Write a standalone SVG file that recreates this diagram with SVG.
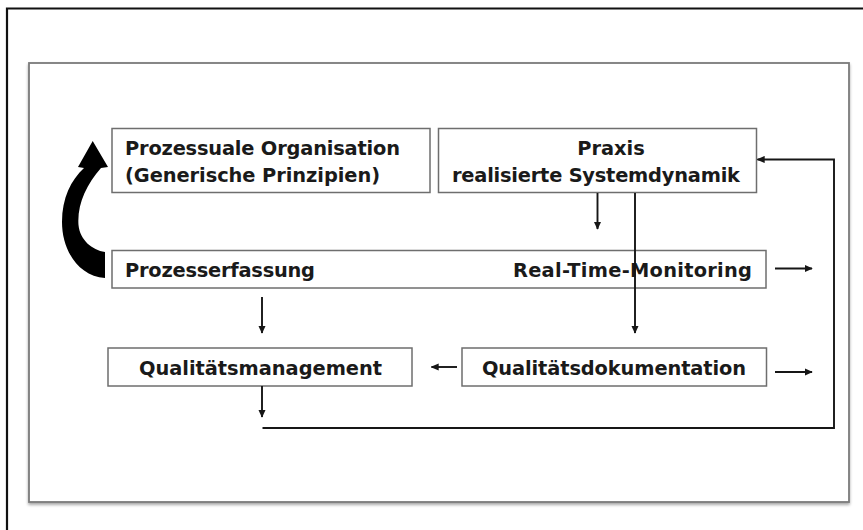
<svg xmlns="http://www.w3.org/2000/svg" width="863" height="530" viewBox="0 0 863 530">
  <style>
    .box { fill: #ffffff; stroke: #6e6e6e; stroke-width: 1.5; }
    .lbl { font-family: "DejaVu Sans", Verdana, sans-serif; font-weight: bold; font-size: 19.4px; fill: #1a1a1a; }
    .con { fill: none; stroke: #161616; stroke-width: 1.9; }
  </style>
  <defs>
    <marker id="ah" viewBox="0 0 10 10" refX="9" refY="5" markerWidth="8" markerHeight="8" markerUnits="userSpaceOnUse" orient="auto">
      <path d="M0,0.5 L10,5 L0,9.5 Z" fill="#161616"/>
    </marker>
    <filter id="shadow" x="-5%" y="-5%" width="110%" height="110%">
      <feGaussianBlur in="SourceAlpha" stdDeviation="1.5"/>
      <feOffset dx="0" dy="1.5" result="b"/>
      <feComponentTransfer><feFuncA type="linear" slope="0.35"/></feComponentTransfer>
      <feMerge><feMergeNode/><feMergeNode in="SourceGraphic"/></feMerge>
    </filter>
  </defs>

  <rect width="863" height="530" fill="#ffffff"/>

  <!-- outer frame, running off the right and bottom edges -->
  <path d="M7,531 L7,8.5 L864,8.5" fill="none" stroke="#111111" stroke-width="2.2"/>

  <!-- inner panel -->
  <rect x="29" y="63" width="820" height="439" fill="#ffffff" stroke="#7a7a7a" stroke-width="1.8" filter="url(#shadow)"/>

  <g id="node-organisation">
    <rect class="box" x="112" y="128.5" width="318" height="64"/>
    <text class="lbl" x="125" y="155" textLength="275" lengthAdjust="spacing">Prozessuale Organisation</text>
    <text class="lbl" x="125" y="181.5" textLength="255" lengthAdjust="spacing">(Generische Prinzipien)</text>
  </g>

  <g id="node-praxis">
    <rect class="box" x="438.5" y="128.5" width="318" height="64"/>
    <text class="lbl" x="611" y="155" text-anchor="middle">Praxis</text>
    <text class="lbl" x="452" y="181.5" textLength="288" lengthAdjust="spacing">realisierte Systemdynamik</text>
  </g>

  <g id="node-erfassung">
    <rect class="box" x="112" y="250.5" width="654" height="37.5"/>
    <text class="lbl" x="125" y="276.5" textLength="190" lengthAdjust="spacing">Prozesserfassung</text>
    <text class="lbl" x="513" y="276.5" textLength="239" lengthAdjust="spacing">Real-Time-Monitoring</text>
  </g>

  <g id="node-management">
    <rect class="box" x="108" y="348" width="304" height="38"/>
    <text class="lbl" x="139" y="374.5" textLength="243" lengthAdjust="spacing">Qualitätsmanagement</text>
  </g>

  <g id="node-dokumentation">
    <rect class="box" x="462" y="348" width="304.5" height="38"/>
    <text class="lbl" x="482" y="374.5" textLength="264" lengthAdjust="spacing">Qualitätsdokumentation</text>
  </g>

  <g id="connectors">
    <!-- curved feedback arrow on the left -->
    <path d="M92.7,141 L108,167 L101,168 C86,185 77,205 78.5,225 C80,240 92,250 105,252 L105,278 C78,276 62,250 62,222 C62,198 71,180 84,168 L78,167 Z" fill="#000000"/>

    <line class="con" x1="597.5" y1="193" x2="597.5" y2="229" marker-end="url(#ah)"/>
    <line class="con" x1="635" y1="193" x2="635" y2="333" marker-end="url(#ah)"/>
    <line class="con" x1="775" y1="268.5" x2="812" y2="268.5" marker-end="url(#ah)"/>
    <line class="con" x1="262" y1="297" x2="262" y2="333" marker-end="url(#ah)"/>
    <line class="con" x1="457" y1="367" x2="431.5" y2="367" marker-end="url(#ah)"/>
    <line class="con" x1="775" y1="372" x2="812" y2="372" marker-end="url(#ah)"/>
    <line class="con" x1="262" y1="386" x2="262" y2="417" marker-end="url(#ah)"/>
    <polyline class="con" points="262.5,428 834,428 834,159.5 757.5,159.5" marker-end="url(#ah)"/>
  </g>
</svg>
